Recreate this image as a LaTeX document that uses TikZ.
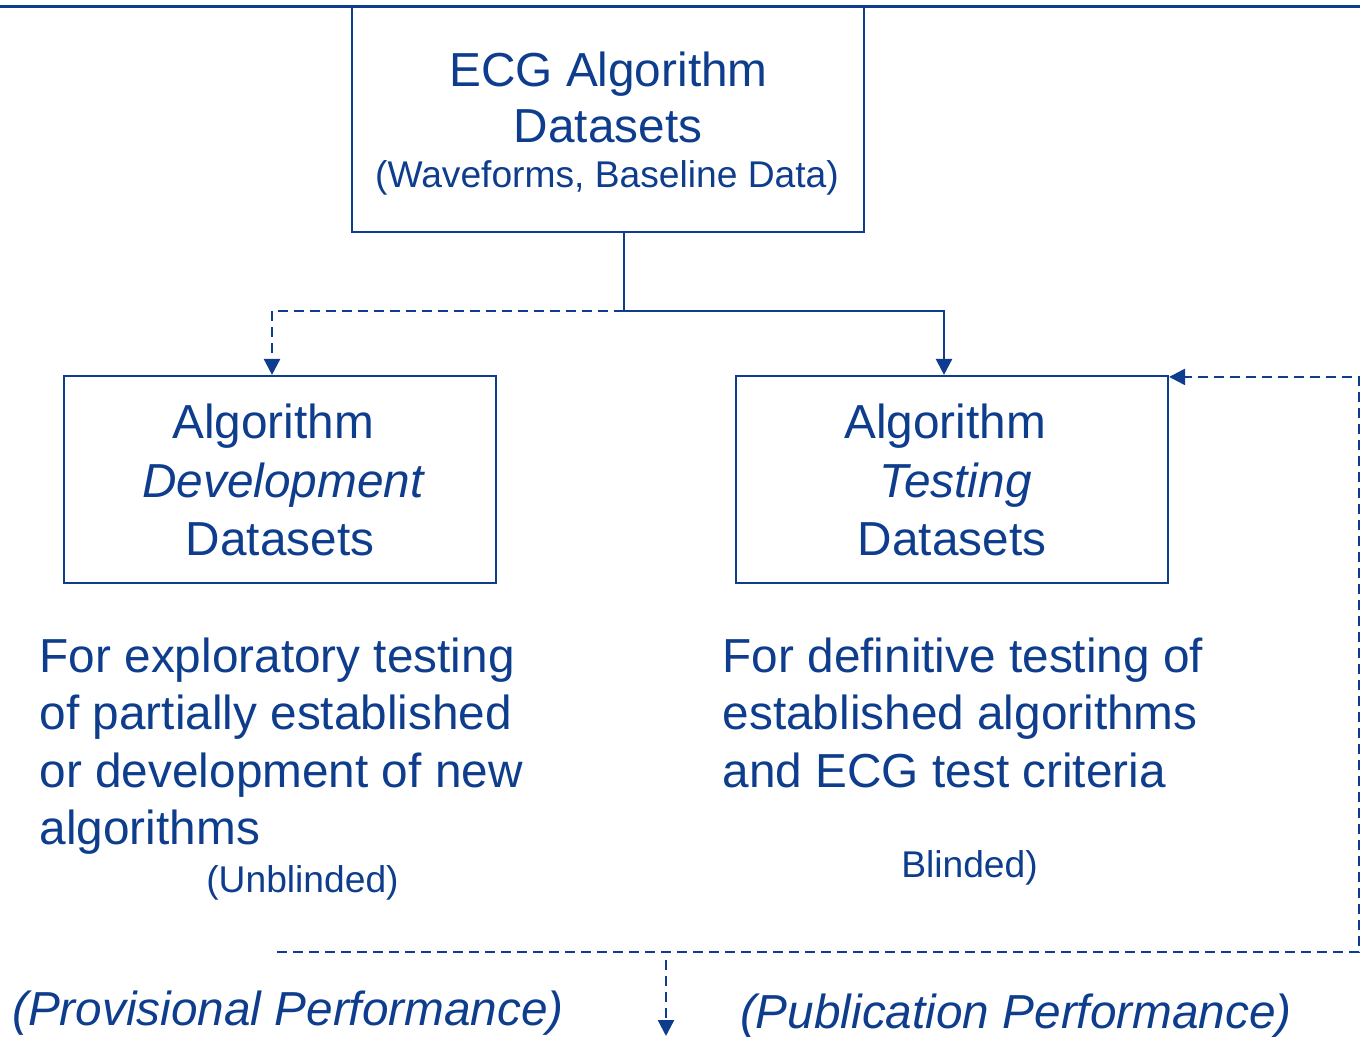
\documentclass[tikz,border=0pt]{standalone}
\usepackage{fontspec}
\setmainfont{Liberation Sans}
\usetikzlibrary{arrows.meta}
\definecolor{fdablue}{RGB}{13,61,140}
\tikzset{
  box/.style={draw=fdablue, line width=1.6pt, rectangle, inner sep=0pt},
  big/.style={text=fdablue, inner sep=0pt, font=\fontsize{35.8}{42}\selectfont},
  bigit/.style={big, font=\fontsize{35.8}{42}\selectfont\itshape},
  small/.style={text=fdablue, inner sep=0pt, font=\fontsize{27.9}{33}\selectfont},
  conn/.style={draw=fdablue, line width=1.8pt},
  dconn/.style={conn, dash pattern=on 7.5pt off 4.5pt},
  tip/.style={-{Triangle[length=12pt,width=12pt]}}
}
\begin{document}
\begin{tikzpicture}[x=0.75pt,y=-0.75pt]
\useasboundingbox (0,0) rectangle (1360,1037);
% top rule
\draw[draw=fdablue, line width=2.25pt] (0,7) -- (1360,7);
% boxes
\node[box, minimum width=384pt, minimum height=168.75pt] (top) at (608,119.5) {};
\node[box, minimum width=324pt, minimum height=155.25pt] (dev) at (280,479.5) {};
\node[box, minimum width=324pt, minimum height=155.25pt] (test) at (952,479.5) {};
% top box text
\node[big, anchor=base] (t1) at (608.5,87) {ECG Algorithm};
\node[big, anchor=base] (t2) at (608,143) {Datasets};
\node[small, anchor=base] (t3) at (607,188) {(Waveforms, Baseline Data)};
% dev box text
\node[big, anchor=base] (d1) at (273,439) {Algorithm};
\node[bigit, anchor=base] (d2) at (283,497) {Development};
\node[big, anchor=base] (d3) at (280,555) {Datasets};
% test box text
\node[big, anchor=base] (s1) at (945,439) {Algorithm};
\node[bigit, anchor=base] (s2) at (955.5,497) {Testing};
\node[big, anchor=base] (s3) at (952,555) {Datasets};
% descriptions
\node[big, anchor=base west] (l1) at (39.5,672) {For exploratory testing};
\node[big, anchor=base west] (l2) at (39.5,729.5) {of partially established};
\node[big, anchor=base west] (l3) at (39.5,787) {or development of new};
\node[big, anchor=base west] (l4) at (39.5,844) {algorithms};
\node[small, anchor=base] (ub) at (302.5,892) {(Unblinded)};
\node[big, anchor=base west] (r1) at (722.5,672) {For definitive testing of};
\node[big, anchor=base west] (r2) at (722.5,729.5) {established algorithms};
\node[big, anchor=base west] (r3) at (722.5,787) {and ECG test criteria};
\node[small, anchor=base] (bl) at (969.5,877) {Blinded)};
% bottom labels
\node[bigit, anchor=base] (pv) at (288,1025) {(Provisional Performance)};
\node[bigit, anchor=base] (pb) at (1016,1028) {(Publication Performance)};
% connectors
\coordinate (split) at (624,311);
\draw[conn, tip] ([xshift=12pt]top.south) -- (split) -| ([xshift=-6pt]test.north);
\draw[dconn, tip] (split) -| ([xshift=-6pt]dev.north);
\coordinate (fbstart) at (277,952);
\coordinate (fbcorner) at (1359,952);
\draw[dconn, tip] (fbstart) -- (fbcorner) |- ([yshift=-1.5pt]test.north east);
\coordinate (outstart) at (666,960);
\coordinate (outend) at (666,1036);
\draw[dconn, tip] (outstart) -- (outend);
\end{tikzpicture}
\end{document}
